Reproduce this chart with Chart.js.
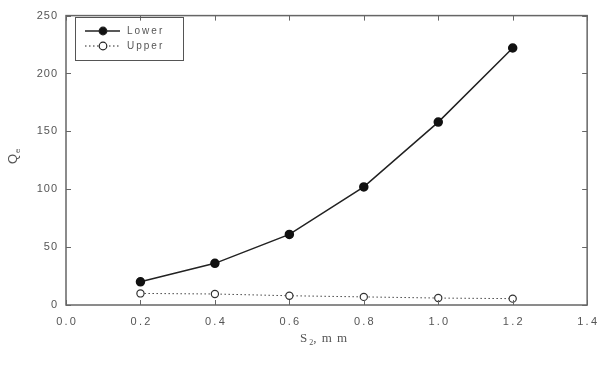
<!DOCTYPE html>
<html>
<head>
<meta charset="utf-8">
<script src="https://cdn.jsdelivr.net/npm/chart.js@4.4.0/dist/chart.umd.min.js"></script>
<style>
  html, body { margin: 0; padding: 0; background: #fff; }
  #wrap { width: 607px; height: 374px; position: relative; }
</style>
</head>
<body>
<div id="wrap"><canvas id="chart"></canvas></div>
<script>
const gapValues = [0.2, 0.4, 0.6, 0.8, 1.0, 1.2];
const lowerValues = [20, 36, 61, 102, 158, 222];
const upperValues = [10, 9.5, 8, 7, 6, 5.5];
const seriesNames = ["Lower", "Upper"];
const xTitle = "S";
const xTitleSub = "2";
const xTitleRest = ", m m";
const yTitle = "Q";
const yTitleSub = "e";

const axisColor = "#666";
const labelColor = "#555";

// inward ticks, frame, axis titles and the boxed legend
const decorations = {
  id: "decorations",
  afterDraw(chart) {
    const ctx = chart.ctx;
    const a = chart.chartArea;
    const xs = chart.scales.x;
    const ys = chart.scales.y;
    ctx.save();
    ctx.strokeStyle = axisColor;
    ctx.lineWidth = 1.5;
    ctx.strokeRect(a.left, a.top, a.right - a.left, a.bottom - a.top);

    ctx.lineWidth = 1;
    xs.ticks.forEach((t) => {
      const px = Math.round(xs.getPixelForValue(t.value)) + 0.5;
      ctx.beginPath();
      ctx.moveTo(px, a.bottom);
      ctx.lineTo(px, a.bottom - 5);
      ctx.moveTo(px, a.top);
      ctx.lineTo(px, a.top + 5);
      ctx.stroke();
    });
    ys.ticks.forEach((t) => {
      const py = Math.round(ys.getPixelForValue(t.value)) + 0.5;
      ctx.beginPath();
      ctx.moveTo(a.left, py);
      ctx.lineTo(a.left + 5, py);
      ctx.moveTo(a.right, py);
      ctx.lineTo(a.right - 5, py);
      ctx.stroke();
    });

    // x title
    ctx.fillStyle = labelColor;
    ctx.textBaseline = "alphabetic";
    ctx.textAlign = "left";
    ctx.font = "13px 'Liberation Serif', serif";
    let x = 300;
    const y = 342;
    ctx.fillText(xTitle, x, y);
    x += ctx.measureText(xTitle).width + 2;
    ctx.font = "8px 'Liberation Serif', serif";
    ctx.fillText(xTitleSub, x, y + 3);
    x += ctx.measureText(xTitleSub).width;
    ctx.font = "13px 'Liberation Serif', serif";
    ctx.letterSpacing = "1px";
    ctx.fillText(xTitleRest, x, y);
    ctx.letterSpacing = "0px";

    // y title, rotated
    ctx.save();
    ctx.translate(17, 164);
    ctx.rotate(-Math.PI / 2);
    ctx.font = "13px 'Liberation Sans', sans-serif";
    ctx.fillText(yTitle, 0, 0);
    const qw = ctx.measureText(yTitle).width;
    ctx.font = "8px 'Liberation Sans', sans-serif";
    ctx.fillText(yTitleSub, qw + 1, 3);
    ctx.restore();

    // legend
    ctx.strokeStyle = "#555";
    ctx.lineWidth = 1;
    ctx.strokeRect(75.5, 17.5, 108, 43);
    ctx.font = "10px 'Liberation Sans', sans-serif";
    ctx.letterSpacing = "2px";
    ctx.textBaseline = "middle";
    const rows = [
      { name: seriesNames[0], y: 31, dash: [], fill: "#111", lw: 1.5 },
      { name: seriesNames[1], y: 46, dash: [1.5, 2.5], fill: "#fff", lw: 1 },
    ];
    rows.forEach((r) => {
      ctx.strokeStyle = "#222";
      ctx.lineWidth = r.lw;
      ctx.setLineDash(r.dash);
      ctx.beginPath();
      ctx.moveTo(85, r.y);
      ctx.lineTo(120, r.y);
      ctx.stroke();
      ctx.setLineDash([]);
      ctx.beginPath();
      ctx.arc(103, r.y, 3.8, 0, Math.PI * 2);
      ctx.fillStyle = r.fill;
      ctx.fill();
      ctx.lineWidth = 1.2;
      ctx.stroke();
      ctx.fillStyle = labelColor;
      ctx.fillText(r.name, 127, r.y);
    });
    ctx.restore();
  },
};

new Chart(document.getElementById("chart"), {
  type: "line",
  data: {
    datasets: [
      {
        label: seriesNames[0],
        data: gapValues.map((g, i) => ({ x: g, y: lowerValues[i] })),
        borderColor: "#222",
        borderWidth: 1.5,
        pointRadius: 4,
        pointBackgroundColor: "#111",
        pointBorderColor: "#111",
        tension: 0,
      },
      {
        label: seriesNames[1],
        data: gapValues.map((g, i) => ({ x: g, y: upperValues[i] })),
        borderColor: "#444",
        borderWidth: 1,
        borderDash: [1.5, 2.5],
        pointRadius: 3.6,
        pointBackgroundColor: "#fff",
        pointBorderColor: "#333",
        pointBorderWidth: 1.2,
        tension: 0,
      },
    ],
  },
  options: {
    responsive: true,
    maintainAspectRatio: false,
    animation: false,
    layout: { padding: { left: 0, top: 7, right: 16, bottom: 0 } },
    plugins: { legend: { display: false }, tooltip: { enabled: false } },
    scales: {
      x: {
        type: "linear",
        min: 0,
        max: 1.4,
        afterFit(scale) { scale.height = 69; },
        afterBuildTicks(scale) {
          scale.ticks = [0, 0.2, 0.4, 0.6, 0.8, 1.0, 1.2, 1.4].map((v) => ({ value: v }));
        },
        grid: { display: false, drawTicks: false },
        border: { display: false },
        ticks: {
          padding: 10,
          color: labelColor,
          font: { family: "'Liberation Sans', sans-serif", size: 11 },
          callback: (v) => v.toFixed(1).split("").join("\u2009"),
          maxRotation: 0,
        },
      },
      y: {
        min: 0,
        max: 250,
        afterFit(scale) { scale.width = 66; },
        grid: { display: false, drawTicks: false },
        border: { display: false },
        ticks: {
          stepSize: 50,
          padding: 9,
          color: labelColor,
          font: { family: "'Liberation Sans', sans-serif", size: 11 },
          callback: (v) => String(v).split("").join("\u200A"),
        },
      },
    },
  },
  plugins: [decorations],
});
</script>
</body>
</html>
